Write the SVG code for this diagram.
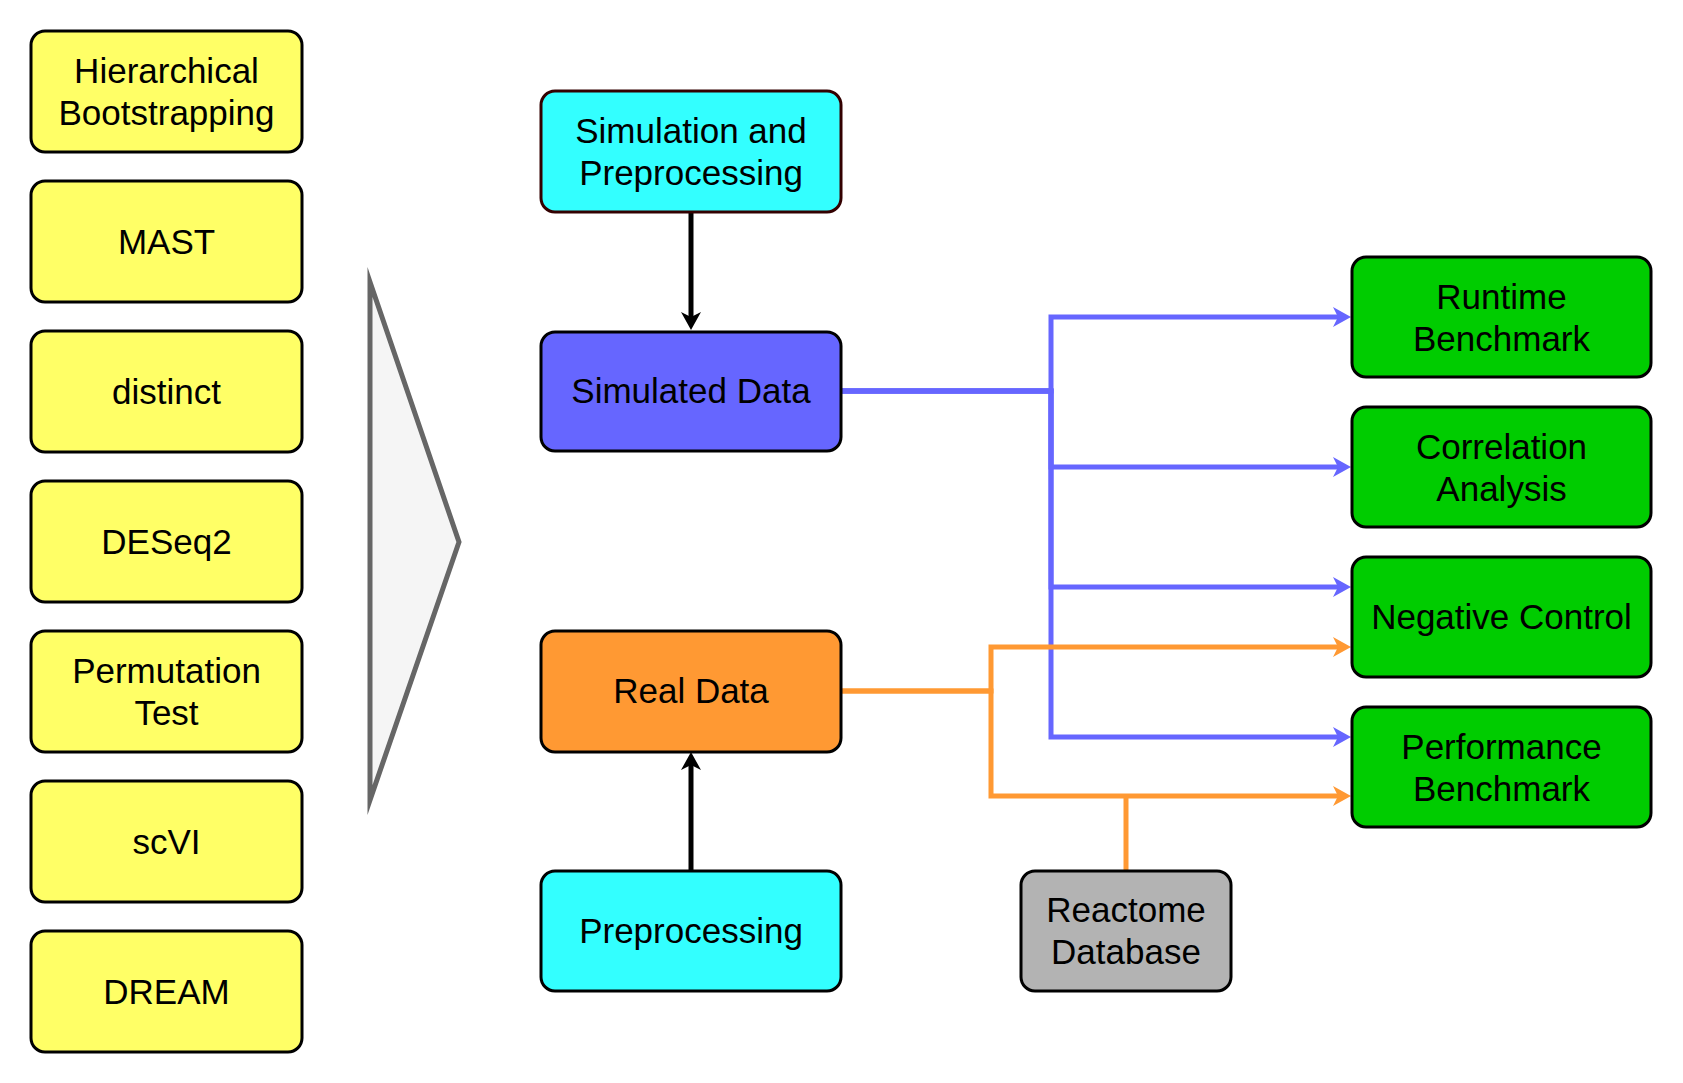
<svg xmlns="http://www.w3.org/2000/svg" width="1683" height="1083" viewBox="0 0 1683 1083">
<defs>
<style>
.box{stroke:#000;stroke-width:3}
.y{fill:#ffff66}
.c{fill:#33ffff}
.g{fill:#00cc00}
.t{font-family:"Liberation Sans",Arial,Helvetica,sans-serif;font-size:35px;fill:#000;text-anchor:middle}
.bl{fill:none;stroke:#6666ff;stroke-width:5}
.or{fill:none;stroke:#ff9933;stroke-width:5}
.bk{fill:none;stroke:#000;stroke-width:5}
</style>
<marker id="aBlue" viewBox="-19 -11 20 22" refX="-6" refY="0" markerWidth="20" markerHeight="22" markerUnits="userSpaceOnUse" orient="auto"><path d="M0,0 L-18,-10 L-13,0 L-18,10 Z" fill="#6666ff"/></marker>
<marker id="aOrange" viewBox="-19 -11 20 22" refX="-6" refY="0" markerWidth="20" markerHeight="22" markerUnits="userSpaceOnUse" orient="auto"><path d="M0,0 L-18,-10 L-13,0 L-18,10 Z" fill="#ff9933"/></marker>
<marker id="aBlack" viewBox="-19 -11 20 22" refX="-6" refY="0" markerWidth="20" markerHeight="22" markerUnits="userSpaceOnUse" orient="auto"><path d="M0,0 L-18,-10 L-13,0 L-18,10 Z" fill="#000"/></marker>
</defs>
<rect width="1683" height="1083" fill="#fff"/>

<g id="methods">
<g id="hb"><rect class="box y" x="31" y="31" width="271" height="121" rx="14"/><text class="t" x="166.5" y="83">Hierarchical</text><text class="t" x="166.5" y="125">Bootstrapping</text></g>
<g id="mast"><rect class="box y" x="31" y="181" width="271" height="121" rx="14"/><text class="t" x="166.5" y="254">MAST</text></g>
<g id="distinct"><rect class="box y" x="31" y="331" width="271" height="121" rx="14"/><text class="t" x="166.5" y="404">distinct</text></g>
<g id="deseq2"><rect class="box y" x="31" y="481" width="271" height="121" rx="14"/><text class="t" x="166.5" y="554">DESeq2</text></g>
<g id="perm"><rect class="box y" x="31" y="631" width="271" height="121" rx="14"/><text class="t" x="166.5" y="683">Permutation</text><text class="t" x="166.5" y="725">Test</text></g>
<g id="scvi"><rect class="box y" x="31" y="781" width="271" height="121" rx="14"/><text class="t" x="166.5" y="854">scVI</text></g>
<g id="dream"><rect class="box y" x="31" y="931" width="271" height="121" rx="14"/><text class="t" x="166.5" y="1004">DREAM</text></g>
</g>

<g id="funnel"><polygon points="370,282 459,542 370,800" fill="#f5f5f5" stroke="#666666" stroke-width="5" stroke-linejoin="miter" stroke-miterlimit="10"/></g>

<g id="connectors">
<path class="bk" d="M691,212 V324" marker-end="url(#aBlack)"/>
<path class="bk" d="M691,871 V758" marker-end="url(#aBlack)"/>
<path class="bl" d="M841,391 H1051 V317 H1345" marker-end="url(#aBlue)"/>
<path class="bl" d="M841,391 H1051 V467 H1345" marker-end="url(#aBlue)"/>
<path class="bl" d="M841,391 H1051 V587 H1345" marker-end="url(#aBlue)"/>
<path class="bl" d="M841,391 H1051 V737 H1345" marker-end="url(#aBlue)"/>
<path class="or" d="M841,691 H991 V647 H1345" marker-end="url(#aOrange)"/>
<path class="or" d="M841,691 H991 V796 H1345" marker-end="url(#aOrange)"/>
<path class="or" d="M1126,871 V796"/>
</g>

<g id="simprep"><rect class="box c" x="541" y="91" width="300" height="121" rx="14" style="stroke:#330000"/><text class="t" x="691" y="143">Simulation and</text><text class="t" x="691" y="185">Preprocessing</text></g>
<g id="simdata"><rect class="box" x="541" y="332" width="300" height="119" rx="14" fill="#6666ff"/><text class="t" x="691" y="403">Simulated Data</text></g>
<g id="realdata"><rect class="box" x="541" y="631" width="300" height="121" rx="14" fill="#ff9933"/><text class="t" x="691" y="703">Real Data</text></g>
<g id="prep"><rect class="box c" x="541" y="871" width="300" height="120" rx="14"/><text class="t" x="691" y="943">Preprocessing</text></g>
<g id="reactome"><rect class="box" x="1021" y="871" width="210" height="120" rx="14" fill="#b3b3b3"/><text class="t" x="1126" y="922">Reactome</text><text class="t" x="1126" y="964">Database</text></g>

<g id="runtime"><rect class="box g" x="1352" y="257" width="299" height="120" rx="14"/><text class="t" x="1501.5" y="309">Runtime</text><text class="t" x="1501.5" y="351">Benchmark</text></g>
<g id="corr"><rect class="box g" x="1352" y="407" width="299" height="120" rx="14"/><text class="t" x="1501.5" y="459">Correlation</text><text class="t" x="1501.5" y="501">Analysis</text></g>
<g id="negctrl"><rect class="box g" x="1352" y="557" width="299" height="120" rx="14"/><text class="t" x="1501.5" y="629">Negative Control</text></g>
<g id="perf"><rect class="box g" x="1352" y="707" width="299" height="120" rx="14"/><text class="t" x="1501.5" y="759">Performance</text><text class="t" x="1501.5" y="801">Benchmark</text></g>
</svg>
